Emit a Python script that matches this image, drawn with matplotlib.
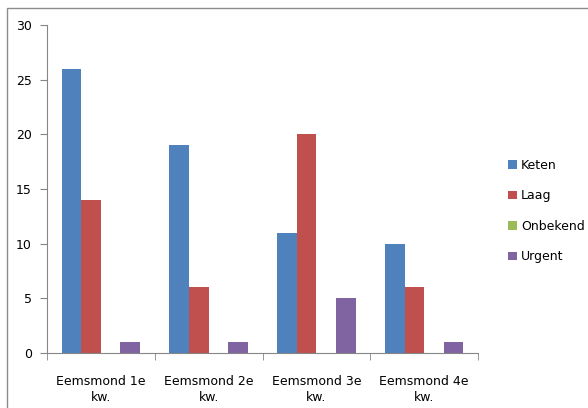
import numpy as np
import matplotlib.pyplot as plt
from matplotlib.patches import Rectangle

categories = ["Eemsmond 1e\nkw.", "Eemsmond 2e\nkw.", "Eemsmond 3e\nkw.", "Eemsmond 4e\nkw."]
series_names = ["Keten", "Laag", "Onbekend", "Urgent"]
keten = [26, 19, 11, 10]
laag = [14, 6, 20, 6]
onbekend = [0, 0, 0, 0]
urgent = [1, 1, 5, 1]
colors = ["#4F81BD", "#C0504D", "#9BBB59", "#8064A2"]

W, H = 588, 408
fig = plt.figure(figsize=(W / 100, H / 100), dpi=100)
plt.rcParams['font.family'] = ['DejaVu Sans']

# outer chart frame (cropped on the right and bottom)
fig.patches.append(Rectangle((7 / W, -0.1), 1.2, 1 - 8 / H + 0.1, transform=fig.transFigure,
                             fill=False, edgecolor="#8c8c8c", linewidth=1))

ax = fig.add_axes([47 / W, 1 - 353 / H, (478 - 47) / W, (353 - 25) / H])

x = np.arange(len(categories))
bw = 1 / 5.5
for i, (name, vals) in enumerate(zip(series_names, [keten, laag, onbekend, urgent])):
    ax.bar(x + (i - 1.5) * bw, vals, bw, color=colors[i], label=name, linewidth=0)

ax.set_xlim(-0.5, len(categories) - 0.5)
ax.set_ylim(0, 30)
ax.set_yticks(range(0, 31, 5))
ax.set_xticks(x)
ax.set_xticklabels(categories, fontsize=9, linespacing=1.3)
ax.set_xticks(np.arange(-0.5, len(categories)), minor=True)
ax.tick_params(axis="x", which="major", length=0, pad=16)
ax.tick_params(axis="x", which="minor", length=5, color="#868686", direction="out")
ax.tick_params(axis="y", length=5, color="#868686", direction="out", labelsize=9, pad=6)

for s in ["top", "right"]:
    ax.spines[s].set_visible(False)
for s in ["left", "bottom"]:
    ax.spines[s].set_color("#868686")

ax.legend(loc="center left", bbox_to_anchor=(497 / W, 1 - 211 / H), bbox_transform=fig.transFigure,
          frameon=False, fontsize=9, handlelength=0.7, handleheight=0.7, handletextpad=0.3,
          labelspacing=1.4)

fig.savefig("out.png", dpi=100)
